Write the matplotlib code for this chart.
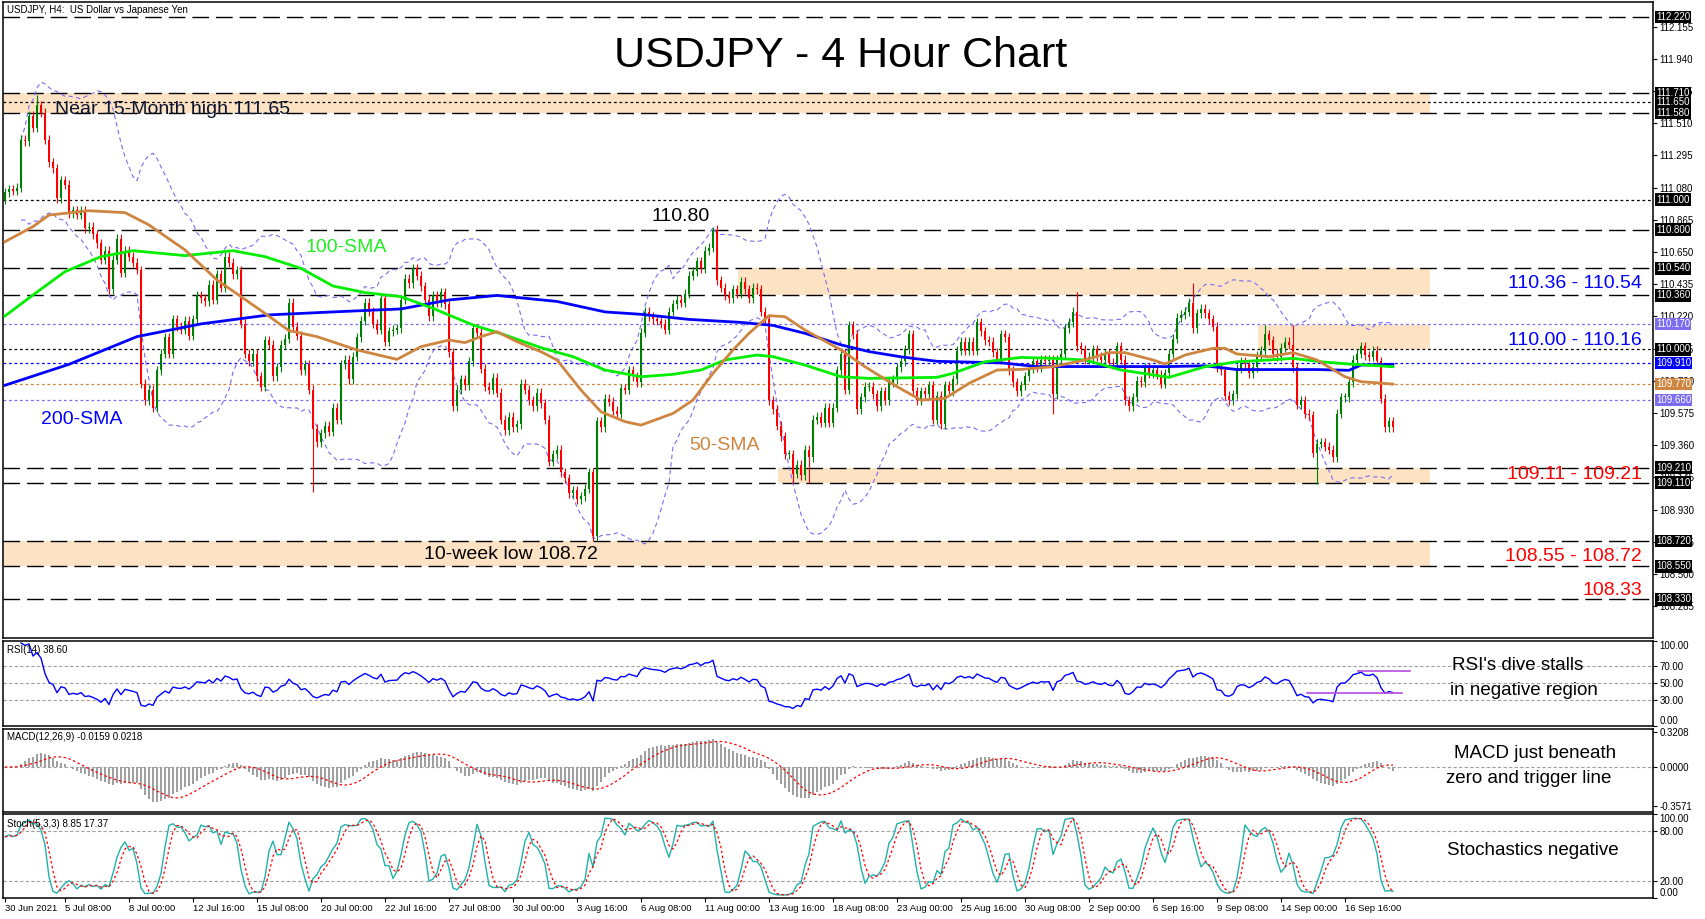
import matplotlib
matplotlib.use("Agg")
import matplotlib.pyplot as plt
import matplotlib.transforms as mtransforms
import numpy as np
import pandas as pd

# ---- H4 closes (30 Jun 20:00 .. 20 Sep 16:00) ----
closes_jul = [
    111.05, 111.07, 111.06, 111.08, 111.40, 111.39, 111.56, 111.48, 111.63, 111.58,
    111.40, 111.25, 111.21, 111.01, 111.13, 111.10, 110.91, 110.93, 110.90, 110.93,
    110.81, 110.82, 110.77, 110.71, 110.60, 110.66, 110.40, 110.60, 110.74, 110.51,
    110.66, 110.62, 110.58, 110.53, 109.77, 109.66, 109.73, 109.61, 109.86, 109.97,
    110.08, 109.97, 110.20, 110.15, 110.13, 110.19, 110.09, 110.20, 110.36, 110.34,
    110.32, 110.43, 110.33, 110.50, 110.41, 110.62, 110.58, 110.50, 110.53, 110.17,
    109.97, 109.92, 109.97, 109.82, 109.75, 110.06, 110.03, 109.82, 109.88, 110.03,
    110.07, 110.31, 110.15, 110.09, 109.86, 109.90, 109.73, 109.47, 109.38, 109.44,
    109.49, 109.45, 109.61, 109.53, 109.90, 109.93, 109.80, 109.95, 110.08, 110.19,
    110.31, 110.25, 110.17, 110.13, 110.34, 110.05, 110.12, 110.13, 110.14, 110.33,
    110.47, 110.44, 110.54, 110.49, 110.42, 110.33, 110.22, 110.36, 110.31, 110.38,
    110.30, 109.98,
]
closes_aug = [
    109.62, 109.73, 109.80, 109.76, 109.92, 110.14, 110.11, 109.87, 109.75, 109.73,
    109.81, 109.71, 109.53, 109.46, 109.55, 109.48, 109.50, 109.77, 109.73, 109.66,
    109.62, 109.71, 109.64, 109.53, 109.25, 109.30, 109.33, 109.18, 109.14, 109.04,
    109.06, 109.00, 109.02, 109.07, 109.18, 108.75, 109.52, 109.48, 109.67, 109.65,
    109.59, 109.57, 109.74, 109.73, 109.86, 109.82, 109.78, 110.11, 110.25, 110.22,
    110.20, 110.19, 110.17, 110.13, 110.25, 110.30, 110.33, 110.31, 110.37, 110.49,
    110.52, 110.59, 110.54, 110.66, 110.68, 110.80, 110.46, 110.41, 110.36, 110.34,
    110.40, 110.37, 110.45, 110.40, 110.34, 110.41, 110.40, 110.25, 110.20, 109.66,
    109.60, 109.49, 109.42, 109.30, 109.30, 109.17, 109.23, 109.16, 109.33, 109.28,
    109.53, 109.55, 109.51, 109.61, 109.51, 109.61, 109.86, 109.97, 109.73, 110.16,
    110.10, 109.60, 109.68, 109.75,
]
closes_late_aug = [
    109.75, 109.70, 109.62, 109.72, 109.66, 109.78, 109.80, 109.88, 109.92, 110.00,
    110.10, 109.72, 109.66, 109.72, 109.70, 109.76, 109.53, 109.69, 109.50, 109.76,
    109.72, 109.80, 109.99, 110.05, 109.99, 110.05, 109.99, 110.18, 110.12, 110.06,
    110.05, 109.98, 109.93, 110.10, 110.08, 109.86, 109.78, 109.72, 109.76, 109.82,
    109.87, 109.92, 109.88, 109.93, 109.92, 109.93, 109.70, 109.93, 109.97, 110.14,
    110.18, 110.25, 110.02, 110.00, 109.93, 109.95, 110.00, 109.95, 109.93, 109.97,
    109.91, 109.90, 110.02, 109.93, 109.66, 109.62, 109.68, 109.79, 109.78, 109.88,
    109.84, 109.86, 109.83, 109.77, 109.84, 109.97, 110.07, 110.21, 110.23, 110.25,
    110.31, 110.14, 110.24, 110.27, 110.24, 110.20, 110.15, 109.88, 109.86, 109.69,
    109.66, 109.70, 109.87, 109.92, 109.90,
]
closes_sep = [
    109.84, 109.88, 109.96, 109.99, 110.10, 110.06, 109.97, 109.95, 110.01, 110.05,
    110.03, 109.88, 109.63, 109.66, 109.57, 109.56, 109.31, 109.37, 109.38, 109.35,
    109.33, 109.28, 109.57, 109.68, 109.68, 109.78, 109.93, 109.97, 110.02, 109.96,
    109.95, 109.99, 109.92, 109.67, 109.48, 109.52, 109.48,
]
first_open = 111.00
wick = 0.03
long_highs = {8: 111.70, 9: 111.66, 177: 110.82, 268: 110.38, 297: 110.44, 315: 110.16, 322: 110.16}
long_lows = {77: 109.05, 147: 108.72, 197: 109.11, 201: 109.11, 262: 109.57, 328: 109.10}

# moving averages sampled along the drawn lines (bar index, price)
sma200_idx = [0, 16, 33, 49, 66, 82, 99, 111, 123, 138, 150, 159, 171, 184, 192, 200, 209,
              216, 224, 233, 249, 258, 266, 291, 300, 308, 316, 328, 336, 339, 347]
sma200_val = [109.76, 109.90, 110.085, 110.17, 110.23, 110.25, 110.27, 110.33, 110.36, 110.32,
              110.25, 110.234, 110.20, 110.18, 110.16, 110.107, 110.03, 109.985, 109.95, 109.92,
              109.91, 109.885, 109.885, 109.885, 109.89, 109.865, 109.865, 109.865, 109.86,
              109.895, 109.90]
sma100_idx = [0, 7, 15, 24, 32, 45, 57, 65, 74, 82, 90, 99, 107, 111, 117, 125, 134, 142, 150,
              159, 167, 174, 180, 188, 192, 200, 209, 216, 233, 237, 245, 254, 262, 270, 279,
              291, 300, 308, 316, 322, 329, 336, 347]
sma100_val = [110.223, 110.363, 110.519, 110.619, 110.659, 110.626, 110.659, 110.619, 110.541,
              110.423, 110.379, 110.352, 110.274, 110.229, 110.163, 110.096, 110.011, 109.951,
              109.862, 109.817, 109.833, 109.862, 109.929, 109.962, 109.951, 109.895, 109.817,
              109.806, 109.813, 109.84, 109.917, 109.946, 109.94, 109.929, 109.862, 109.813,
              109.884, 109.917, 109.929, 109.94, 109.917, 109.902, 109.884]
sma50_idx = [0, 7, 11, 21, 30, 36, 45, 53, 59, 65, 71, 78, 88, 98, 104, 111, 115, 119, 123,
             128, 134, 138, 144, 149, 155, 159, 167, 172, 177, 182, 186, 191, 195, 200, 209,
             215, 223, 229, 235, 241, 248, 254, 262, 270, 276, 280, 287, 290, 295, 302, 305,
             308, 316, 322, 328, 335, 339, 347]
sma50_val = [110.719, 110.82, 110.897, 110.926, 110.913, 110.831, 110.664, 110.463, 110.352,
             110.24, 110.125, 110.085, 109.996, 109.933, 110.018, 110.062, 110.045, 110.085,
             110.118, 110.051, 109.984, 109.929, 109.728, 109.583, 109.517, 109.494, 109.572,
             109.661, 109.84, 109.996, 110.107, 110.225, 110.218, 110.129, 109.996, 109.884,
             109.751, 109.661, 109.673, 109.773, 109.862, 109.866, 109.884, 109.929, 109.978,
             109.978, 109.929, 109.902, 109.962, 110.007, 110.007, 109.969, 109.951, 109.978,
             109.929, 109.817, 109.784, 109.768]

# horizontal levels and their right-axis markers
level_prices = [112.22, 111.71, 111.65, 111.58, 111.00, 110.80, 110.54, 110.36, 110.17, 110.00,
                109.91, 109.77, 109.66, 109.21, 109.11, 108.72, 108.55, 108.33]
level_styles = ['long', 'long', 'dot', 'long', 'dot', 'long', 'long', 'long', 'dot', 'dot',
                'dot', 'dot', 'dot', 'long', 'long', 'long', 'long', 'long']
level_colors = ['black', 'black', 'black', 'black', 'black', 'black', 'black', 'black',
                '#7b6cf0', 'black', '#0000ff', '#cd853f', '#7b6cf0',
                'black', 'black', 'black', 'black', 'black']
zones = [(111.58, 111.71, -0.5), (110.36, 110.54, 183.25), (110.00, 110.16, 313.25),
         (109.11, 109.21, 193.25), (108.55, 108.72, -0.5)]
zone_end = 356.25

main_ticks = [112.155, 111.940, 111.725, 111.510, 111.295, 111.080, 110.865, 110.650, 110.435,
              110.220, 110.005, 109.790, 109.575, 109.360, 109.145, 108.930, 108.715, 108.500,
              108.285]

tick_idx = [0, 15, 31, 47, 63, 79, 95, 111, 127, 143, 159, 175, 191, 207, 223, 239, 255, 271,
            287, 303, 319, 335]
tick_lbl = ["30 Jun 2021", "5 Jul 08:00", "8 Jul 00:00", "12 Jul 16:00", "15 Jul 08:00",
            "20 Jul 00:00", "22 Jul 16:00", "27 Jul 08:00", "30 Jul 00:00", "3 Aug 16:00",
            "6 Aug 08:00", "11 Aug 00:00", "13 Aug 16:00", "18 Aug 08:00", "23 Aug 00:00",
            "25 Aug 16:00", "30 Aug 08:00", "2 Sep 00:00", "6 Sep 16:00", "9 Sep 08:00",
            "14 Sep 00:00", "16 Sep 16:00"]

# ---- OHLC ----
c = np.array(closes_jul + closes_aug + closes_late_aug + closes_sep)
n = len(c)
o = np.concatenate([[first_open], c[:-1]])
h = np.maximum(o, c) + wick
l = np.minimum(o, c) - wick
for k, v in long_highs.items():
    h[k] = v
for k, v in long_lows.items():
    l[k] = v
x = np.arange(n)
close = pd.Series(c)

# indicators
mid = close.rolling(20, min_periods=5).mean()
sd = close.rolling(20, min_periods=5).std(ddof=0)
bb_up, bb_dn = mid + 2 * sd, mid - 2 * sd

d = close.diff().fillna(0)
gain = d.clip(lower=0).ewm(alpha=1 / 14, adjust=True).mean()
loss = (-d.clip(upper=0)).ewm(alpha=1 / 14, adjust=True).mean()
rsi = 100 - 100 / (1 + gain / loss)

macd = close.ewm(span=12, adjust=False).mean() - close.ewm(span=26, adjust=False).mean()
macd_sig = macd.rolling(9, min_periods=1).mean()

hs, lw_ = pd.Series(h), pd.Series(l)
ll = lw_.rolling(5, min_periods=1).min()
hh = hs.rolling(5, min_periods=1).max()
st_k = 100 * (close - ll).rolling(3, min_periods=1).sum() / (hh - ll).rolling(3, min_periods=1).sum()
st_d = st_k.rolling(3, min_periods=1).mean()

# ---- figure ----
W, H = 1706, 919
fig = plt.figure(figsize=(W / 100, H / 100), dpi=100)
fig.patch.set_facecolor('white')


def panel(top, bottom):
    a = fig.add_axes([3 / W, 1 - bottom / H, 1650 / W, (bottom - top) / H])
    a.set_xlim(-0.5, 412)
    for s in a.spines.values():
        s.set_color('black')
        s.set_linewidth(1.1)
    a.yaxis.tick_right()
    a.tick_params(axis='y', direction='out', length=3, pad=1.5, labelsize=7,
                  colors='black')
    a.set_xticks([])
    return a


ax = panel(2, 638)
ax_rsi = panel(641, 726)
ax_macd = panel(729, 812)
ax_st = panel(814, 898)
FONT = 'Liberation Sans'

ax.set_ylim(108.072, 112.32)
ax.set_yticks(main_ticks)
ax.set_yticklabels([f"{t:.3f}" for t in main_ticks], family=FONT)

# zones and levels
for lo, hi, start in zones:
    ax.fill_between([start, zone_end], lo, hi, color='#fde3c4', lw=0, zorder=0)
for p, st, col in zip(level_prices, level_styles, level_colors):
    dash = (0, (12, 5)) if st == 'long' else (0, (2.2, 2.2))
    ax.axhline(p, color=col, lw=1.0 if st == 'long' else 0.9, ls=dash, zorder=1)

# bollinger
bb_col = '#7b6cf0'
ax.plot(x, bb_up, color=bb_col, lw=0.8, ls=(0, (4, 3)), zorder=2)
ax.plot(x, bb_dn, color=bb_col, lw=0.8, ls=(0, (4, 3)), zorder=2)

# candles
cols = np.where(c >= o, '#008000', '#ff0000')
ax.vlines(x, l, h, colors=cols, lw=0.8, zorder=3)
ax.bar(x, np.maximum(np.abs(c - o), 0.006), bottom=np.minimum(o, c), width=0.7,
       color=cols, lw=0, zorder=3)

# moving averages
ax.plot(sma200_idx, sma200_val, color='#0000ff', lw=2.0, zorder=4)
ax.plot(sma100_idx, sma100_val, color='#00ee00', lw=2.0, zorder=4)
ax.plot(sma50_idx, sma50_val, color='#cd853f', lw=2.0, zorder=4)

# right-axis price markers
trans = mtransforms.offset_copy(ax.get_yaxis_transform(), fig=fig, x=3, y=0, units='dots')
for p, col in zip(level_prices, level_colors):
    ax.text(1.0, p, f"{p:.3f}", transform=trans, ha='left', va='center', fontsize=7,
            family=FONT, color='white', zorder=10, clip_on=False,
            bbox=dict(boxstyle='square,pad=0.12', fc=col, ec='none'))

# annotations
ax.text(0.0025, 0.987, "USDJPY, H4:  US Dollar vs Japanese Yen", transform=ax.transAxes,
        fontsize=7, family=FONT, va='center', ha='left')
ax.text(209, 111.962, "USDJPY - 4 Hour Chart", fontsize=31, family=FONT, ha='center',
        va='center')
ax.text(12.5, 111.605, "Near 15-Month high 111.65", fontsize=14, family=FONT,
        color='#0b1530', ha='left', va='center', zorder=6)
ax.text(168.9, 110.885, "110.80", fontsize=14, family=FONT, ha='center', va='center')
ax.text(85.25, 110.68, "100-SMA", fontsize=14, family=FONT, color='#22ee22', ha='center',
        va='center')
ax.text(19.25, 109.53, "200-SMA", fontsize=14, family=FONT, color='#0000ff', ha='center',
        va='center')
ax.text(179.75, 109.36, "50-SMA", fontsize=14, family=FONT, color='#cd853f', ha='center',
        va='center')
ax.text(126.5, 108.628, "10-week low 108.72", fontsize=14, family=FONT, ha='center',
        va='center', zorder=6)
for txt, yy, col in [("110.36 - 110.54", 110.438, '#0000ff'), ("110.00 - 110.16", 110.057, '#0000ff'),
                     ("109.11 - 109.21", 109.162, '#ff0000'), ("108.55 - 108.72", 108.614, '#ff0000'),
                     ("108.33", 108.392, '#ff0000')]:
    ax.text(409.25, yy, txt, fontsize=14, family=FONT, color=col, ha='right', va='center',
            zorder=6)

# ---- RSI ----
ax_rsi.set_ylim(-0.5, 100)
for lev in (70, 50, 30):
    ax_rsi.axhline(lev, color='#a0a0a0', lw=0.8, ls=(0, (3, 2)))
ax_rsi.plot(x[4:], rsi[4:], color='#0000ff', lw=1.0)
ax_rsi.plot([338.25, 351.25], [64, 64], color='#b44ee0', lw=1.2)
ax_rsi.plot([325.5, 349.25], [38, 38], color='#b44ee0', lw=1.2)
ax_rsi.set_yticks([100, 70, 50, 30, 0])
ax_rsi.set_yticklabels(["100.00", "70.00", "50.00", "30.00", "0.00"], family=FONT)
ax_rsi.get_yticklabels()[0].set_va('top')
ax_rsi.get_yticklabels()[-1].set_va('bottom')
ax_rsi.text(0.0025, 0.894, "RSI(14) 38.60", transform=ax_rsi.transAxes, fontsize=7,
            family=FONT, va='center', zorder=6)
ax_rsi.text(378.25, 70.5, "RSI's dive stalls", fontsize=13.5, family=FONT, ha='center',
            va='center')
ax_rsi.text(379.75, 41.0, "in negative region", fontsize=13.5, family=FONT, ha='center',
            va='center')

# ---- MACD ----
ax_macd.set_ylim(-0.413, 0.349)
ax_macd.axhline(0, color='#a0a0a0', lw=0.8, ls=(0, (3, 2)))
ax_macd.bar(x, macd, width=0.45, color='#a0a0a0', lw=0)
ax_macd.plot(x, macd_sig, color='#ff0000', lw=0.9, ls=(0, (2, 2)))
ax_macd.set_yticks([0.3208, 0.0, -0.3571])
ax_macd.set_yticklabels(["0.3208", "0.0000", "-0.3571"], family=FONT)
ax_macd.text(0.0025, 0.904, "MACD(12,26,9) -0.0159 0.0218", transform=ax_macd.transAxes,
             fontsize=7, family=FONT, va='center')
ax_macd.text(382.5, 0.125, "MACD just beneath", fontsize=13.5, family=FONT, ha='center',
             va='center')
ax_macd.text(381, -0.104, "zero and trigger line", fontsize=13.5, family=FONT, ha='center',
             va='center')

# ---- Stochastic ----
ax_st.set_ylim(-0.4, 100)
for lev in (80, 20):
    ax_st.axhline(lev, color='#a0a0a0', lw=0.8, ls=(0, (3, 2)))
ax_st.plot(x, st_k, color='#20b2aa', lw=1.0)
ax_st.plot(x, st_d, color='#ff0000', lw=0.9, ls=(0, (2, 2)))
ax_st.set_yticks([100, 80, 20, 0])
ax_st.set_yticklabels(["100.00", "80.00", "20.00", "0.00"], family=FONT)
ax_st.get_yticklabels()[0].set_va('top')
ax_st.get_yticklabels()[-1].set_va('bottom')
ax_st.text(0.0025, 0.88, "Stoch(5,3,3) 8.85 17.37", transform=ax_st.transAxes, fontsize=7,
           family=FONT, va='center', zorder=6)
ax_st.text(382, 56.0, "Stochastics negative", fontsize=13.5, family=FONT, ha='center',
           va='center')
ax_st.set_xticks(tick_idx)
ax_st.set_xticklabels(tick_lbl, ha='left', fontsize=6.8, family=FONT)
ax_st.tick_params(axis='x', direction='out', length=3, pad=1.5)

fig.savefig("out.png", dpi=100, facecolor='white')
